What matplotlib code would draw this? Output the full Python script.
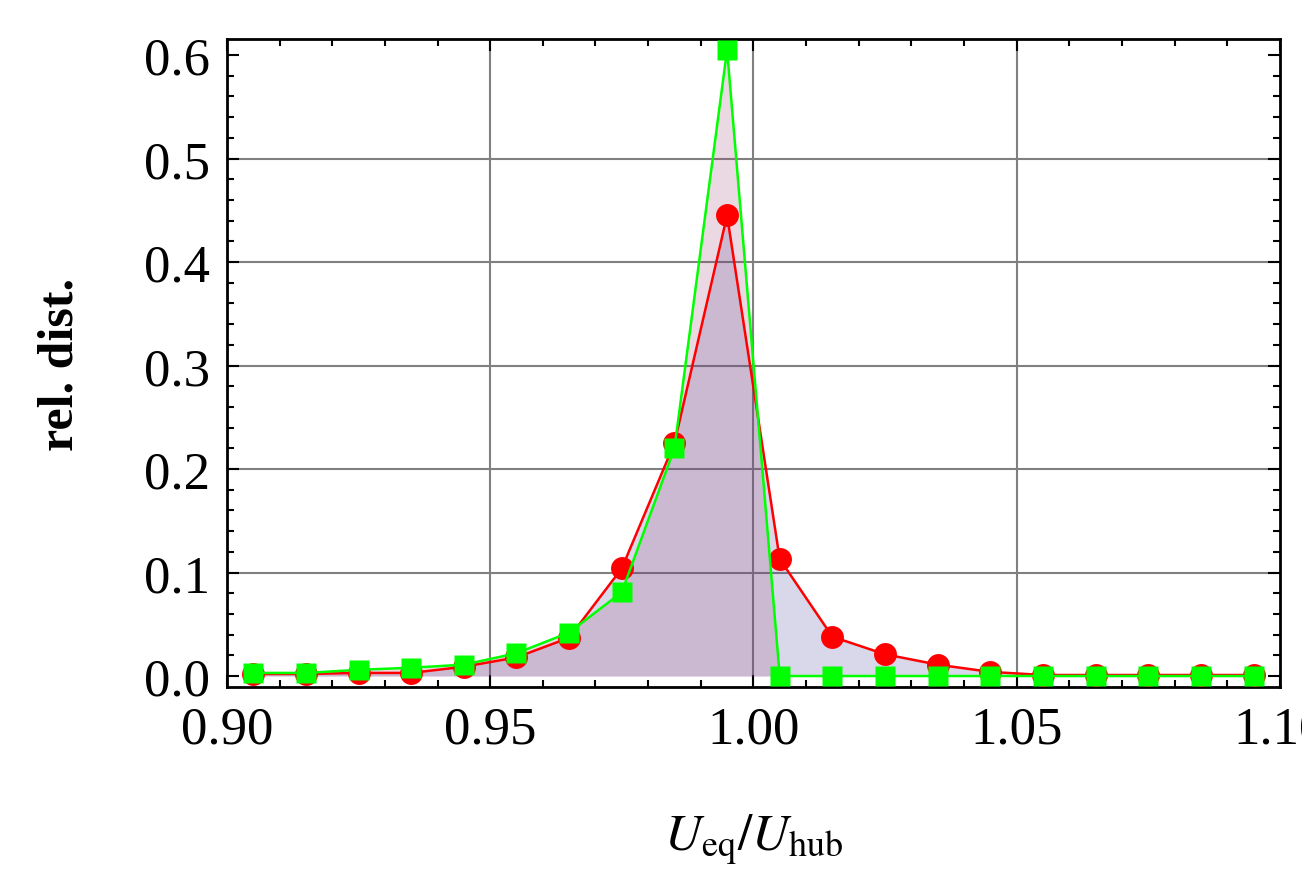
import matplotlib
matplotlib.use("Agg")
import matplotlib.pyplot as plt
from matplotlib.ticker import MultipleLocator

# bin centres of U_eq/U_hub
x_bins = [0.905, 0.915, 0.925, 0.935, 0.945, 0.955, 0.965, 0.975, 0.985, 0.995,
          1.005, 1.015, 1.025, 1.035, 1.045, 1.055, 1.065, 1.075, 1.085, 1.095]

# relative distributions
red_vals   = [0.002, 0.002, 0.003, 0.003, 0.009, 0.018, 0.037, 0.104, 0.225, 0.445,
              0.113, 0.038, 0.021, 0.011, 0.004, 0.001, 0.001, 0.001, 0.001, 0.001]
green_vals = [0.003, 0.003, 0.006, 0.008, 0.011, 0.022, 0.042, 0.081, 0.220, 0.605,
              0.000, 0.000, 0.000, 0.000, 0.000, 0.000, 0.000, 0.000, 0.000, 0.000]

x_ticks = [0.90, 0.95, 1.00, 1.05, 1.10]
y_ticks = [0.0, 0.1, 0.2, 0.3, 0.4, 0.5, 0.6]

plt.rcParams["font.family"] = ["Liberation Serif", "DejaVu Serif"]
plt.rcParams["mathtext.fontset"] = "stix"

fig = plt.figure(figsize=(13.02, 8.78), dpi=100)
ax = fig.add_axes([0.1743, 0.2164, 0.8087, 0.7380])

fill_blue = (0.247, 0.24, 0.6)
fill_pink = (0.6, 0.24, 0.456)

ax.fill_between(x_bins, red_vals, 0, color=fill_blue, alpha=0.2, lw=0, zorder=2)
ax.fill_between(x_bins, green_vals, 0, color=fill_pink, alpha=0.2, lw=0, zorder=2)

ax.plot(x_bins, red_vals, color="#ff0000", lw=1.8, marker="o", ms=16.5,
        mec="none", zorder=3, clip_on=False)
ax.plot(x_bins, green_vals, color="#00ff00", lw=1.8, marker="s", ms=15,
        mec="none", zorder=4, clip_on=False)

ax.set_xlim(0.90, 1.10)
ax.set_ylim(-0.0106, 0.6155)

ax.set_xticks(x_ticks)
ax.set_xticklabels([f"{v:.2f}" for v in x_ticks])
ax.set_yticks(y_ticks)
ax.set_yticklabels([f"{v:.1f}" for v in y_ticks])
ax.xaxis.set_minor_locator(MultipleLocator(0.01))
ax.yaxis.set_minor_locator(MultipleLocator(0.02))

ax.tick_params(which="both", direction="in", top=True, right=True,
               width=1.5, color="black", labelsize=38)
ax.tick_params(which="major", length=8.5)
ax.tick_params(which="minor", length=5)
ax.tick_params(axis="x", pad=13)
ax.tick_params(axis="y", pad=12)

for s in ax.spines.values():
    s.set_linewidth(2.0)

# grid lines (drawn below the fills)
for gx in [0.95, 1.00, 1.05]:
    ax.axvline(gx, color="#808080", lw=1.5, zorder=1)
for gy in [0.1, 0.2, 0.3, 0.4, 0.5]:
    ax.axhline(gy, color="#808080", lw=1.5, zorder=1)

ax.set_ylabel("rel. dist.", fontsize=36, fontweight="bold", labelpad=44)
ax.set_xlabel(r"$U_{\rm eq}/U_{\rm hub}$", fontsize=37, labelpad=42)

fig.savefig("out.png", dpi=100)
